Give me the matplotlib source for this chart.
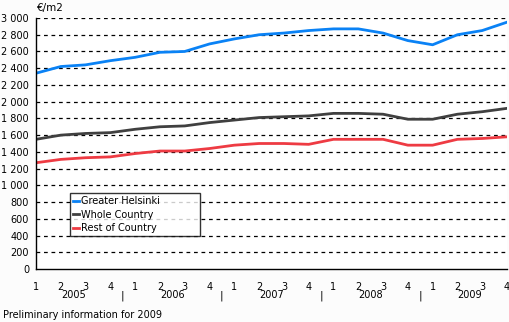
import matplotlib.pyplot as plt
import matplotlib.transforms as mtransforms

years = ["2005", "2006", "2007", "2008", "2009"]
quarters = ["1", "2", "3", "4"] * 5

helsinki = [2340, 2420, 2440, 2490, 2530, 2590, 2600, 2690, 2750, 2800,
            2820, 2850, 2870, 2870, 2820, 2730, 2680, 2800, 2850, 2950]
whole = [1550, 1600, 1620, 1630, 1670, 1700, 1710, 1750, 1780, 1810,
         1820, 1830, 1860, 1860, 1850, 1790, 1790, 1850, 1880, 1920]
rest = [1270, 1310, 1330, 1340, 1380, 1410, 1410, 1440, 1480, 1500,
        1500, 1490, 1550, 1550, 1550, 1480, 1480, 1550, 1560, 1580]

yticks = list(range(0, 3001, 200))
ytick_labels = [f"{v:,}".replace(",", " ") for v in yticks]

plt.rcParams["font.family"] = ["DejaVu Sans"]
fs = 7

fig = plt.figure(figsize=(5.09, 3.22), dpi=100, facecolor="#fcfcfc")
ax = fig.add_axes([36 / 509, 1 - 269 / 322, 471 / 509, 251 / 322])
ax.set_facecolor("white")

x = list(range(len(quarters)))
ax.plot(x, helsinki, color="#0a82f5", lw=2, label="Greater Helsinki")
ax.plot(x, whole, color="#404040", lw=2, label="Whole Country")
ax.plot(x, rest, color="#ee3b43", lw=2, label="Rest of Country")

ax.set_xlim(0, 19)
ax.set_ylim(0, 3000)
ax.set_yticks(yticks)
ax.set_yticklabels(ytick_labels, fontsize=fs)
ax.set_xticks(x)
ax.set_xticklabels(quarters, fontsize=fs)
ax.tick_params(axis="both", length=0)
ax.tick_params(axis="y", pad=5)
ax.tick_params(axis="x", pad=9)

for v in yticks[1:]:
    ax.axhline(v, color="black", lw=0.9, ls=(0, (3, 3)), zorder=0)

for s in ["top", "right"]:
    ax.spines[s].set_visible(False)
ax.spines["left"].set_linewidth(1)
ax.spines["bottom"].set_linewidth(1)

trans = mtransforms.blended_transform_factory(ax.transData, ax.transAxes)
for i, yr in enumerate(years):
    ax.text(i * 4 + 1.5, -0.105, yr, transform=trans, ha="center", va="center",
            fontsize=fs)
    if i > 0:
        ax.text(i * 4 - 0.5, -0.105, "|", transform=trans, ha="center",
                va="center", fontsize=fs + 1)

ax.text(0.003, 1.04, "€/m2", transform=ax.transAxes, ha="left", va="center",
        fontsize=fs + 0.5)
fig.text(3 / 509, 1 - 315 / 322, "Preliminary information for 2009",
         ha="left", va="center", fontsize=fs)

leg = ax.legend(loc="lower left", bbox_to_anchor=(34 / 471, 33 / 251, 130 / 471, 44 / 251),
                mode="expand", fontsize=fs, frameon=True, fancybox=False,
                handlelength=0.6, handletextpad=0.2, borderpad=0.3,
                labelspacing=0.35, borderaxespad=0)
leg.get_frame().set_edgecolor("black")
leg.get_frame().set_linewidth(1)

fig.savefig("out.png", dpi=100, facecolor=fig.get_facecolor())
